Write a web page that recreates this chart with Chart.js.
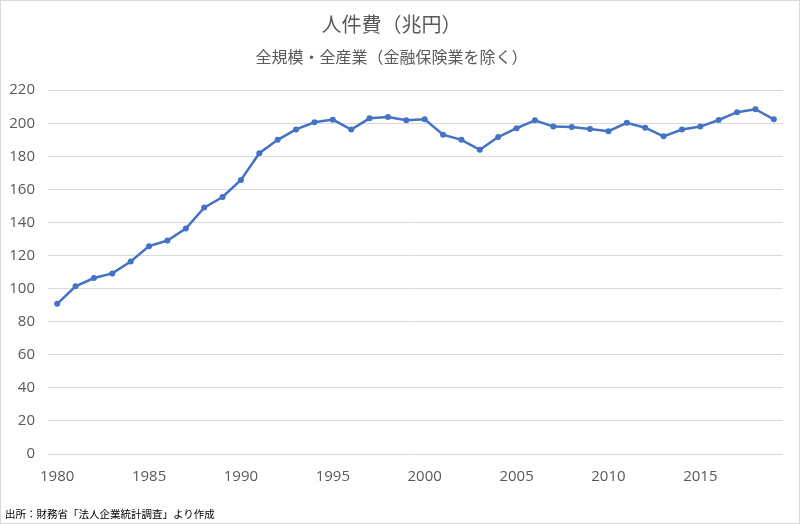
<!DOCTYPE html>
<html>
<head>
<meta charset="utf-8">
<script src="https://cdn.jsdelivr.net/npm/chart.js@4/dist/chart.umd.min.js"></script>
<style>
  html, body { margin: 0; padding: 0; background: #fff; }
  #wrap { position: relative; width: 800px; height: 524px; }
  #frame { position: absolute; left: 0; top: 0; width: 800px; height: 524px; box-sizing: border-box; border: 1px solid #d9d9d9; pointer-events: none; }
  #note { position: absolute; left: 5px; top: 506px; font: 10.5px "Noto Sans CJK JP", sans-serif; color: #000; white-space: nowrap; }
</style>
</head>
<body>
<div id="wrap">
  <canvas id="c" width="800" height="524"></canvas>
  <div id="frame"></div>
  <div id="note">出所：財務省「法人企業統計調査」より作成</div>
</div>
<script>
const titleText = "人件費（兆円）";
const subtitleText = "全規模・全産業（金融保険業を除く）";
const years = [1980,1981,1982,1983,1984,1985,1986,1987,1988,1989,
               1990,1991,1992,1993,1994,1995,1996,1997,1998,1999,
               2000,2001,2002,2003,2004,2005,2006,2007,2008,2009,
               2010,2011,2012,2013,2014,2015,2016,2017,2018,2019];
const laborCost = [90.8,101.4,106.4,109.2,116.4,125.7,129.1,136.3,149.0,155.4,
                   165.7,181.9,190.0,196.3,200.6,202.2,196.2,203.0,203.8,201.8,
                   202.4,193.1,190.0,184.0,191.7,197.0,201.8,198.0,197.7,196.6,
                   195.2,200.3,197.3,192.1,196.2,198.0,202.0,206.7,208.5,202.4];
const labeledYears = [1980,1985,1990,1995,2000,2005,2010,2015];
const yMin = 0, yMax = 220, yStep = 20;

const textColor = "#595959";
const numFont = "'Open Sans', 'Noto Sans CJK JP', sans-serif";
const jpFont = "'Noto Sans CJK JP', sans-serif";

new Chart(document.getElementById("c"), {
  type: "line",
  data: {
    labels: years.map(String),
    datasets: [{
      data: laborCost,
      borderColor: "#4472C4",
      backgroundColor: "#4472C4",
      borderWidth: 2.5,
      pointRadius: 3,
      pointBorderWidth: 0,
      pointBackgroundColor: "#4472C4",
      tension: 0
    }]
  },
  options: {
    responsive: false,
    animation: false,
    layout: { padding: { left: 0, right: 17, top: 0, bottom: 30 } },
    plugins: {
      legend: { display: false },
      tooltip: { enabled: false },
      title: {
        display: true, text: titleText, color: textColor,
        font: { family: jpFont, size: 20, weight: "normal" },
        padding: { top: 12, bottom: 11 }
      },
      subtitle: {
        display: true, text: subtitleText, color: textColor,
        font: { family: jpFont, size: 16, weight: "normal" },
        padding: { top: 0, bottom: 24 }
      }
    },
    scales: {
      x: {
        type: "category",
        offset: true,
        grid: { display: false, drawTicks: false },
        border: { display: false },
        ticks: {
          autoSkip: false, maxRotation: 0, padding: 14, color: textColor,
          font: { family: numFont, size: 15 },
          callback: function(v, i) {
            const y = years[i];
            return labeledYears.includes(y) ? String(y) : null;
          }
        },
        afterFit: s => { s.height = 40; }
      },
      y: {
        min: yMin, max: yMax,
        grid: { color: "#d9d9d9", lineWidth: 1, drawTicks: false },
        border: { display: false },
        ticks: { stepSize: yStep, padding: 13, color: textColor, font: { family: numFont, size: 15 } },
        afterFit: s => { s.width = 48; }
      }
    }
  }
});
</script>
</body>
</html>
